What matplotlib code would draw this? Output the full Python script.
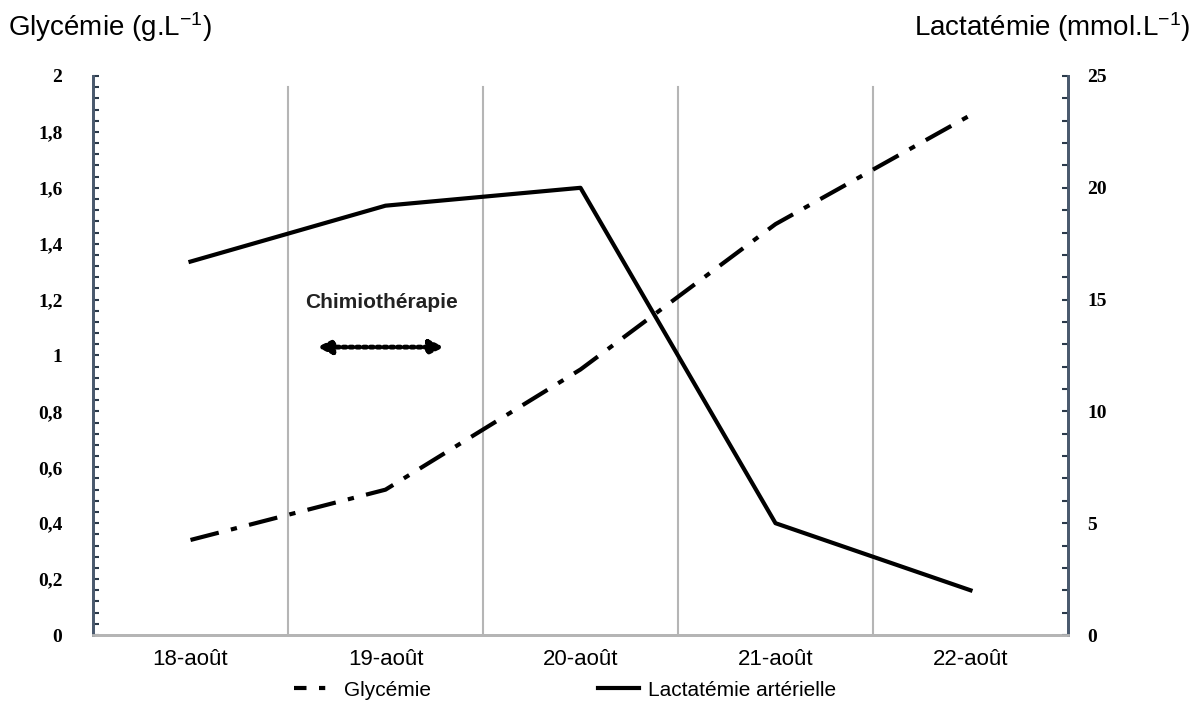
import matplotlib.pyplot as plt
import numpy as np
from matplotlib.ticker import MultipleLocator, FuncFormatter
from matplotlib.lines import Line2D

plt.rcParams["mathtext.default"] = "regular"

days = ["18-août", "19-août", "20-août", "21-août", "22-août"]
glycemie = [0.34, 0.52, 0.95, 1.47, 1.86]      # g/L, left axis
lactatemie = [16.7, 19.2, 20.0, 5.0, 2.0]      # mmol/L, right axis

SANS = "Liberation Sans"

fig = plt.figure(figsize=(11.97, 7.16), dpi=100)
ax = fig.add_axes([93 / 1197, 1 - 635 / 716, 975 / 1197, 559 / 716])
ax2 = ax.twinx()

x = np.arange(len(days))
ax.plot(x, glycemie, color="black", lw=3, dashes=(7, 3, 1.5, 3))
ax2.plot(x, lactatemie, color="black", lw=3)

ax.set_xlim(-0.5, len(days) - 0.5)
ax.set_ylim(0, 2)
ax2.set_ylim(0, 25)

# vertical separators between categories
for b in x[:-1] + 0.5:
    ax.axvline(b, ymax=0.98, color="#b5b5b5", lw=1.5, zorder=0)

ax.set_xticks(x)
ax.set_xticklabels(days, fontsize=16, family=SANS)
ax.tick_params(axis="x", length=0, pad=10)

serif = {"family": "Liberation Serif", "weight": "bold", "size": 14}
ax.yaxis.set_major_locator(MultipleLocator(0.2))
ax.yaxis.set_minor_locator(MultipleLocator(0.04))
ax.yaxis.set_major_formatter(FuncFormatter(lambda v, p: f"{v:g}".replace(".", ",")))
ax.tick_params(axis="y", which="both", direction="in", length=4, width=1.5,
               color="#2b3a4a", pad=22)
for t in ax.get_yticklabels():
    t.set_fontproperties(serif)

ax2.yaxis.set_major_locator(MultipleLocator(5))
ax2.yaxis.set_minor_locator(MultipleLocator(1))
ax2.tick_params(axis="y", which="both", direction="in", length=4, width=1.5,
                color="#2b3a4a", pad=14)
for t in ax2.get_yticklabels():
    t.set_fontproperties(serif)

for a in (ax, ax2):
    a.spines["top"].set_visible(False)
    a.spines["left"].set_color("#4a5a6e")
    a.spines["right"].set_color("#4a5a6e")
    a.spines["left"].set_linewidth(2)
    a.spines["right"].set_linewidth(2)
    a.spines["bottom"].set_color("#b5b5b5")
    a.spines["bottom"].set_linewidth(2)

fig.text(8 / 1197, 1 - 27 / 716, "Glycémie (g.L$^{-1}$)", fontsize=20,
         family=SANS, va="center", ha="left")
fig.text(1190 / 1197, 1 - 27 / 716, "Lactatémie (mmol.L$^{-1}$)", fontsize=20,
         family=SANS, va="center", ha="right")

# chemotherapy annotation
ax.text(0.98, 1.19, "Chimiothérapie", fontsize=15, ha="center", va="center",
        family=SANS, weight="bold", color="#222222")
ax.annotate("", xy=(1.3, 1.03), xytext=(0.65, 1.03),
            arrowprops=dict(arrowstyle="<|-|>", color="black", lw=3.5,
                            linestyle=(0, (0.6, 0.8)), mutation_scale=20,
                            shrinkA=0, shrinkB=0))

handles = [Line2D([], [], color="black", lw=3, dashes=(3, 3, 1.5, 3, 1.5, 3)),
           Line2D([], [], color="black", lw=3)]
fig.legend(handles, ["Glycémie", "Lactatémie artérielle"], loc="center",
           bbox_to_anchor=(0.472, 1 - 690 / 716), ncol=2, frameon=False,
           columnspacing=8, handlelength=2.0, handletextpad=0.4,
           prop={"family": SANS, "size": 15})

fig.savefig("out.png", dpi=100)
